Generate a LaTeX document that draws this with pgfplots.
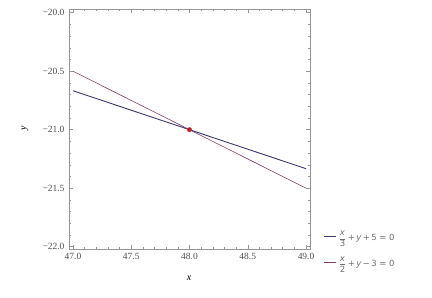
\documentclass[border=0pt]{standalone}
\usepackage{pgfplots}
\pgfplotsset{compat=1.18}
\usepackage{fontspec}
\setmainfont{Liberation Serif}
\setsansfont{DejaVu Sans}
\definecolor{lineA}{RGB}{58,56,108}
\definecolor{lineB}{RGB}{122,62,104}
\definecolor{framegray}{RGB}{150,150,150}
\definecolor{labgray}{RGB}{80,80,80}
\definecolor{leggray}{RGB}{110,110,110}
\newcommand{\lfrac}[2]{$\displaystyle\frac{\hbox{\sffamily\itshape #1}}{\hbox{\sffamily #2}}$}
\begin{document}
\begin{tikzpicture}
\begin{axis}[
  at={(0bp,0bp)}, anchor=south west,
  scale only axis,
  width=241bp, height=240bp,
  xmin=46.966, xmax=49.034,
  ymin=-22.02, ymax=-19.968,
  axis line style={framegray, line width=0.6pt},
  tick style={framegray, line width=0.5pt},
  tick align=inside,
  major tick length=4bp,
  minor tick length=2bp,
  xtick={47,47.5,48,48.5,49},
  xticklabels={47.0,47.5,48.0,48.5,49.0},
  ytick={-22,-21.5,-21,-20.5,-20},
  yticklabels={−22.0,−21.5,−21.0,−20.5,−20.0},
  minor x tick num=4,
  minor y tick num=4,
  xtick pos=both, ytick pos=both,
  ticklabel style={font=\fontsize{9.5}{10}\selectfont, text=labgray},
  xticklabel style={yshift=-1bp},
  yticklabel style={xshift=-1bp},
  xlabel={\textit{x}}, ylabel={\textit{y}},
  label style={font=\fontsize{10}{10}\selectfont, text=labgray},
  every axis x label/.style={at={(axis description cs:0.498,0)}, anchor=center, yshift=-29bp},
  every axis y label/.style={at={(axis description cs:0,0.504)}, anchor=center, xshift=-44bp, rotate=90},
  legend style={draw=none, fill=none, at={(axis description cs:1.054,0.085)}, anchor=north west,
    font=\sffamily\fontsize{8.5}{9}\selectfont, text=leggray, row sep=10bp,
    inner xsep=0pt, inner ysep=0pt},
  legend cell align=left,
  legend image code/.code={\draw[#1] (0bp,0bp) -- (12bp,0bp);},
  legend image post style={line width=1.4pt},
  clip=false,
]
\addplot[lineA, line width=0.9pt] coordinates {(47,-20.6667) (49,-21.3333)};
\addlegendentry{\lfrac{x}{3}\,+\,\textit{y}\,+\,5 = 0}
\addplot[lineB, line width=0.6pt] coordinates {(47,-20.5) (49,-21.5)};
\addlegendentry{\lfrac{x}{2}\,+\,\textit{y}\,−\,3 = 0}
\addplot[only marks, mark=*, mark size=2.2bp, color={rgb,255:red,200;green,30;blue,30}, forget plot] coordinates {(48,-21)};
\end{axis}
\path[use as bounding box] (-69bp,-49bp) rectangle (363bp,249bp);
\end{tikzpicture}
\end{document}
